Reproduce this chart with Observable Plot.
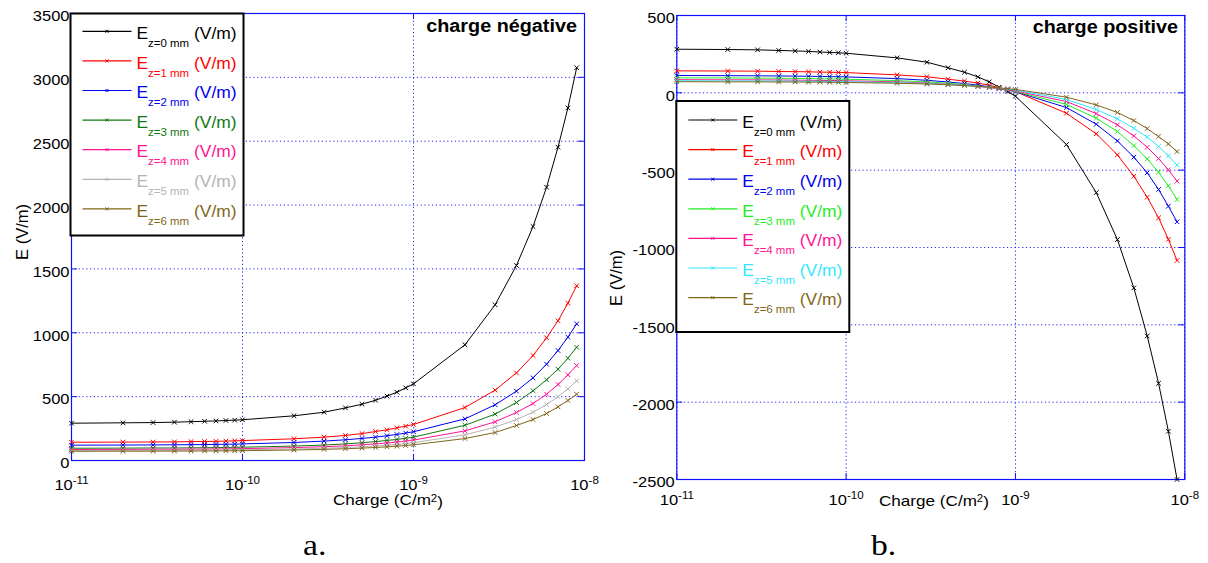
<!DOCTYPE html>
<html><head><meta charset="utf-8">
<script src="https://cdn.jsdelivr.net/npm/d3@7"></script>
<script src="https://cdn.jsdelivr.net/npm/@observablehq/plot@0.6"></script>
<style>
body{margin:0;background:#fff}
#wrap{position:relative;width:1208px;height:563px;overflow:hidden;font-family:"Liberation Sans",Arial,sans-serif;background:#fff}
.p{position:absolute;top:0}
#ov{position:absolute;left:0;top:0;pointer-events:none}
</style>
</head><body><div id="wrap"></div>
<script>
// ---------- data ----------
const charges = [1e-11,2e-11,3e-11,4e-11,5e-11,6e-11,7e-11,8e-11,9e-11,
  1e-10,2e-10,3e-10,4e-10,5e-10,6e-10,7e-10,8e-10,9e-10,
  1e-9,2e-9,3e-9,4e-9,5e-9,6e-9,7e-9,8e-9,9e-9];
const xTicks = [1e-11, 1e-10, 1e-9, 1e-8];
const yTicksNeg = [0,500,1000,1500,2000,2500,3000,3500];
const yTicksPos = [-2500,-2000,-1500,-1000,-500,0,500];
const seriesNames = ["z=0 mm","z=1 mm","z=2 mm","z=3 mm","z=4 mm","z=5 mm","z=6 mm"];
const colorsNeg = ["#000000","#ff0000","#0000ee","#107810","#ff1493","#b4b4b4","#80661a"];
const colorsPos = ["#000000","#ff0000","#0000ee","#22ee22","#ff1493","#33e8ff","#80661a"];

const eNeg_z0 = [292,295,297,300,304,307,310,313,316,319, 350,378,412,441,472,504,535,569, 600, 906,1219,1527,1832,2140,2453,2761,3075];
const eNeg_z1 = [143,144,145,146,148,149,150,152,154,156, 170,183,196,211,227,240,256,269, 282, 415,551,686,822,961,1094,1232,1368];
const eNeg_z2 = [120,121,122,123,124,125,126,127,128,130, 141,152,162,173,183,194,204,215, 225, 326,436,543,647,754,861,966,1070];
const eNeg_z3 = [96,97,98,98,99,100,101,102,103,104, 113,121,130,139,148,157,165,174, 183, 276,363,454,546,632,715,801,887];
const eNeg_z4 = [86,87,88,88,89,90,91,91,92,93, 101,108,115,123,130,137,144,152, 160, 232,303,376,446,519,595,671,744];
const eNeg_z5 = [79,79,80,80,81,82,82,83,83,84, 90,96,102,108,114,120,126,132, 140, 201,261,321,378,438,499,561,624];
const eNeg_z6 = [72,73,73,74,74,75,75,76,76,77, 82,87,92,97,102,107,112,117, 123, 172,219,274,321,368,420,470,519];

const ePos_z0 = [282,280,278,274,271,268,264,261,259,256, 226,198,162,133,103,71,36,8, -22, -334,-645,-949,-1261,-1572,-1878,-2188,-2500];
const ePos_z1 = [142,141,140,138,137,136,134,133,132,131, 116,104,88,76,63,49,33,22, 8, -132,-265,-401,-539,-675,-808,-947,-1084];
const ePos_z2 = [112,111,110,109,108,107,106,105,104,103, 92,81,70,60,50,39,28,18, 7, -95,-203,-311,-416,-517,-625,-733,-834];
const ePos_z3 = [97,96,95,94,93,92,91,90,89,88, 79,71,62,53,44,35,27,18, 9, -75,-164,-250,-341,-427,-513,-601,-690];
const ePos_z4 = [85,84,84,83,82,81,80,80,79,78, 71,63,56,49,41,34,27,19, 12, -56,-134,-207,-278,-352,-425,-498,-571];
const ePos_z5 = [78,77,77,76,75,75,74,73,73,72, 66,60,54,48,42,36,30,24, 18, -43,-108,-168,-229,-287,-347,-407,-468];
const ePos_z6 = [72,71,71,70,70,69,69,68,68,67, 62,57,52,47,42,37,32,27, 22, -28,-78,-127,-179,-231,-283,-330,-380];

const seriesNeg = [eNeg_z0,eNeg_z1,eNeg_z2,eNeg_z3,eNeg_z4,eNeg_z5,eNeg_z6];
const seriesPos = [ePos_z0,ePos_z1,ePos_z2,ePos_z3,ePos_z4,ePos_z5,ePos_z6];

// ---------- drawing ----------
const FONT = '"Liberation Sans", Arial, sans-serif';
const SERIF = '"Liberation Serif", "Times New Roman", serif';
const gridColor = "#2424ff";
const frameColor = "#1010ff";

// widen glyphs horizontally (the reference text is slightly wider than Arial)
function stretch(node, k) {
  const w = node.getComputedTextLength();
  if (w > 0) {
    node.setAttribute("textLength", (w * k).toFixed(2));
    node.setAttribute("lengthAdjust", "spacingAndGlyphs");
  }
}

function makePanel(o) {
  const plotW = o.width - o.ml - o.mr, plotH = o.height - o.mt - o.mb;
  const marks = [
    Plot.gridX(xTicks, {stroke: gridColor, strokeOpacity: 1, strokeDasharray: "1.2,2.6", strokeWidth: 1}),
    Plot.gridY(o.yTicks, {stroke: gridColor, strokeOpacity: 1, strokeDasharray: "1.2,2.6", strokeWidth: 1}),
    Plot.frame({stroke: frameColor, strokeWidth: 1.2}),
    Plot.tickX(xTicks, {x: d => d, insetTop: plotH - 6, stroke: frameColor}),
    Plot.tickX(xTicks, {x: d => d, insetBottom: plotH - 6, stroke: frameColor}),
    Plot.tickY(o.yTicks, {y: d => d, insetRight: plotW - 6, stroke: frameColor}),
    Plot.tickY(o.yTicks, {y: d => d, insetLeft: plotW - 6, stroke: frameColor})
  ];
  o.series.forEach((vals, i) => {
    const rows = vals.map((v, j) => ({q: charges[j], E: v}));
    marks.push(Plot.line(rows, {x: "q", y: "E", stroke: o.colors[i], strokeWidth: 1}));
    marks.push(Plot.dot(rows, {x: "q", y: "E", symbol: "times", r: 2.2, stroke: o.colors[i], strokeWidth: 1}));
  });
  marks.push(Plot.axisX({ticks: xTicks, tickSize: 0, tickPadding: o.xPad, label: null,
    tickFormat: d => "10^" + Math.round(Math.log10(d))}));
  marks.push(Plot.axisY({ticks: o.yTicks, tickSize: 0, tickPadding: 2, label: null, dy: 3,
    tickFormat: d => String(d)}));
  const svg = Plot.plot({
    width: o.width, height: o.height,
    marginTop: o.mt, marginRight: o.mr, marginBottom: o.mb, marginLeft: o.ml,
    x: {type: "log", domain: [1e-11, 1e-8], label: null},
    y: {domain: o.yDomain, label: null},
    style: {fontFamily: FONT, fontSize: "15px", color: "#000", background: "transparent", overflow: "visible"},
    marks
  });
  // superscript exponents on x tick labels
  d3.select(svg).selectAll('g[aria-label="x-axis tick label"] text').each(function() {
    const t = this.textContent;
    if (t.indexOf("^") < 0) return;
    const [base, exp] = t.split("^");
    const sel = d3.select(this);
    sel.text(base);
    sel.append("tspan").attr("dy", "-0.55em").attr("font-size", "10.5px").text(exp);
  });
  svg.classList.add("p");
  svg.style.left = o.left + "px";
  return svg;
}

const wrap = document.getElementById("wrap");
const pNeg = makePanel({left: 0, width: 600, height: 520, mt: 13, mr: 16, mb: 60, ml: 71, xPad: 19,
  series: seriesNeg, colors: colorsNeg, yDomain: [0, 3500], yTicks: yTicksNeg});
const pPos = makePanel({left: 600, width: 608, height: 520, mt: 15, mr: 23.7, mb: 41, ml: 76.3, xPad: 15,
  series: seriesPos, colors: colorsPos, yDomain: [-2500, 500], yTicks: yTicksPos});
wrap.appendChild(pNeg);
wrap.appendChild(pPos);
[pNeg, pPos].forEach(svg => {
  d3.select(svg).selectAll('g[aria-label="y-axis tick label"] text').each(function() { stretch(this, 1.1); });
  d3.select(svg).selectAll('g[aria-label="x-axis tick label"] text').each(function() { stretch(this, 1.1); });
});

// ---------- overlay: labels and legends ----------
const ov = d3.select(wrap).append("svg").attr("id", "ov").attr("width", 1208).attr("height", 563)
  .style("font-family", FONT);

function xLabel(x, y) {
  const t = ov.append("text").attr("x", x).attr("y", y).attr("font-size", 15).text("Charge (C/m");
  t.append("tspan").attr("dy", "-0.35em").attr("font-size", "10px").text("2");
  t.append("tspan").attr("dy", "0.35em").text(")");
  stretch(t.node(), 1.14);
}
xLabel(333, 505);
xLabel(879, 505.5);

function yLabel(x, y) {
  ov.append("text").attr("transform", `translate(${x},${y}) rotate(-90)`).attr("text-anchor", "middle")
    .attr("font-size", 16.5).text("E (V/m)");
}
yLabel(27.5, 232);
yLabel(621.5, 278);

function title(x, y, s) {
  const t = ov.append("text").attr("x", x).attr("y", y).attr("text-anchor", "end").attr("font-size", 18)
    .attr("font-weight", "bold").text(s);
  stretch(t.node(), 1.1);
}
title(577, 32, "charge négative");
title(1178, 33, "charge positive");

function panelTag(x, s) {
  const t = ov.append("text").attr("x", x).attr("y", 555).attr("font-family", SERIF).attr("font-size", 30).text(s);
  stretch(t.node(), 1.12);
}
panelTag(303, "a.");
panelTag(871, "b.");

function legend(x, y, w, h, firstY, colors) {
  const g = ov.append("g");
  g.append("rect").attr("x", x).attr("y", y).attr("width", w).attr("height", h)
    .attr("fill", "#fff").attr("stroke", "#000").attr("stroke-width", 2);
  seriesNames.forEach((name, i) => {
    const ly = firstY + 29.6 * i;
    const c = colors[i];
    const lx0 = x + 12, lx1 = x + 61, mx = (lx0 + lx1) / 2;
    g.append("line").attr("x1", lx0).attr("x2", lx1).attr("y1", ly).attr("y2", ly).attr("stroke", c).attr("stroke-width", 1.2);
    g.append("path").attr("d", `M${mx-1.5},${ly-1.5}L${mx+1.5},${ly+1.5}M${mx-1.5},${ly+1.5}L${mx+1.5},${ly-1.5}`)
      .attr("stroke", c).attr("stroke-width", 1);
    const t = g.append("text").attr("x", x + 66).attr("y", ly + 7.7).attr("fill", c).attr("font-size", 16).text("E");
    t.append("tspan").attr("dy", 8).attr("font-size", "10.5px").text(name);
    t.append("tspan").attr("dy", -8).attr("font-size", "16px").text(" (V/m)");
    stretch(t.node(), 1.09);
  });
}
legend(70.5, 13.5, 173, 222, 31.3, colorsNeg);
legend(676.3, 101, 173, 231, 120, colorsPos);
</script>
</body></html>
